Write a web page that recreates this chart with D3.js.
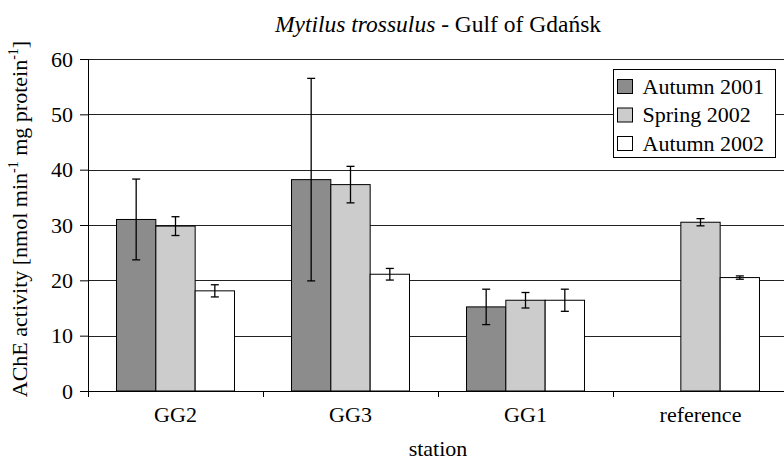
<!DOCTYPE html>
<html>
<head>
<meta charset="utf-8">
<script src="https://cdn.jsdelivr.net/npm/d3@7"></script>
<style>
  body { margin: 0; background: #fff; }
</style>
</head>
<body>
<div class="canvas"></div>
<script>
// data
const stations = ['GG2', 'GG3', 'GG1', 'reference'];
const seriesNames = ['Autumn 2001', 'Spring 2002', 'Autumn 2002'];
const autumn2001 = [31.0, 38.2, 15.2, null];
const autumn2001Err = [7.3, 18.3, 3.2, null];
const spring2002 = [29.8, 37.3, 16.4, 30.5];
const spring2002Err = [1.7, 3.3, 1.4, 0.65];
const autumn2002 = [18.1, 21.1, 16.4, 20.5];
const autumn2002Err = [1.1, 1.05, 2.0, 0.3];
const yTicks = [0, 10, 20, 30, 40, 50, 60];

const colors = ['#8c8c8c', '#cccccc', '#ffffff'];
const font = 'Liberation Serif';

const dims = { width: 784, height: 460 };
const margin = { top: 59, left: 88, bottom: 69, right: -4 };
const inner = {
  width: dims.width - margin.left - margin.right,
  height: dims.height - margin.top - margin.bottom
};

const svg = d3
  .select('.canvas')
  .append('svg')
  .attr('width', dims.width)
  .attr('height', dims.height);

const graph = svg
  .append('g')
  .attr('transform', `translate(${margin.left}, ${margin.top})`);

// scales
const x0 = d3.scaleBand().domain(stations).range([0, inner.width]).padding(0);
const x1 = d3
  .scaleBand()
  .domain(seriesNames)
  .range([0, x0.bandwidth()])
  .paddingInner(0)
  .paddingOuter(0.725);
const y = d3.scaleLinear().domain([0, 60]).range([inner.height, 0]);

// gridlines
graph
  .append('g')
  .selectAll('line')
  .data(yTicks.filter(d => d > 0))
  .enter()
  .append('line')
  .attr('x1', 0)
  .attr('x2', inner.width)
  .attr('y1', d => Math.round(y(d)) + 0.5)
  .attr('y2', d => Math.round(y(d)) + 0.5)
  .attr('stroke', '#222')
  .attr('stroke-width', 1);

// y axis
const yAxis = d3.axisLeft(y).tickValues(yTicks).tickSize(8).tickPadding(7);
const yG = graph.append('g').call(yAxis);
yG.select('.domain').remove();
yG.selectAll('.tick line').attr('stroke', '#000');
yG.selectAll('text')
  .attr('fill', '#000')
  .attr('font-family', font)
  .attr('font-size', 22);
graph
  .append('line')
  .attr('x1', 0.5)
  .attr('x2', 0.5)
  .attr('y1', 0)
  .attr('y2', inner.height + 6)
  .attr('stroke', '#000');

// bars
const seriesVals = [autumn2001, spring2002, autumn2002];
const seriesErr = [autumn2001Err, spring2002Err, autumn2002Err];

const rows = [];
stations.forEach((s, i) => {
  seriesNames.forEach((n, j) => {
    if (seriesVals[j][i] != null) {
      rows.push({ station: s, name: n, idx: j, value: seriesVals[j][i], err: seriesErr[j][i] });
    }
  });
});

graph
  .append('g')
  .selectAll('rect')
  .data(rows)
  .enter()
  .append('rect')
  .attr('x', d => x0(d.station) + x1(d.name))
  .attr('y', d => y(d.value))
  .attr('width', x1.bandwidth())
  .attr('height', d => inner.height - y(d.value))
  .attr('fill', d => colors[d.idx])
  .attr('stroke', '#000')
  .attr('stroke-width', 1);

// error bars
const errG = graph
  .append('g')
  .selectAll('g')
  .data(rows)
  .enter()
  .append('g')
  .attr('stroke', '#000')
  .attr('stroke-width', 1.3);
const cx = d => x0(d.station) + x1(d.name) + x1.bandwidth() / 2;
errG
  .append('line')
  .attr('x1', cx)
  .attr('x2', cx)
  .attr('y1', d => y(d.value + d.err))
  .attr('y2', d => y(d.value - d.err));
errG
  .append('line')
  .attr('x1', d => cx(d) - 4)
  .attr('x2', d => cx(d) + 4)
  .attr('y1', d => y(d.value + d.err))
  .attr('y2', d => y(d.value + d.err));
errG
  .append('line')
  .attr('x1', d => cx(d) - 4)
  .attr('x2', d => cx(d) + 4)
  .attr('y1', d => y(d.value - d.err))
  .attr('y2', d => y(d.value - d.err));

// x axis
graph
  .append('line')
  .attr('x1', 0)
  .attr('x2', inner.width)
  .attr('y1', inner.height + 0.5)
  .attr('y2', inner.height + 0.5)
  .attr('stroke', '#000');
graph
  .append('g')
  .selectAll('line')
  .data(stations.slice(1))
  .enter()
  .append('line')
  .attr('x1', d => Math.round(x0(d)) + 0.5)
  .attr('x2', d => Math.round(x0(d)) + 0.5)
  .attr('y1', inner.height)
  .attr('y2', inner.height + 6)
  .attr('stroke', '#000');
graph
  .append('g')
  .selectAll('text')
  .data(stations)
  .enter()
  .append('text')
  .attr('x', d => x0(d) + x0.bandwidth() / 2)
  .attr('y', inner.height + 31)
  .attr('text-anchor', 'middle')
  .attr('font-family', font)
  .attr('font-size', 22)
  .text(d => d);

// axis titles
svg
  .append('text')
  .attr('x', margin.left + 350)
  .attr('y', 456)
  .attr('text-anchor', 'middle')
  .attr('font-family', font)
  .attr('font-size', 22)
  .text('station');

const yTitle = svg
  .append('text')
  .attr('transform', `translate(27, ${margin.top + inner.height / 2 - 6}) rotate(-90)`)
  .attr('text-anchor', 'middle')
  .attr('font-family', font)
  .attr('font-size', 22);
yTitle.append('tspan').text('AChE activity [nmol min');
yTitle.append('tspan').attr('dy', -9).attr('font-size', 14).text('-1');
yTitle.append('tspan').attr('dy', 9).text(' mg protein');
yTitle.append('tspan').attr('dy', -9).attr('font-size', 14).text('-1');
yTitle.append('tspan').attr('dy', 9).text(']');

// title
const title = svg
  .append('text')
  .attr('x', 438)
  .attr('y', 32)
  .attr('text-anchor', 'middle')
  .attr('font-family', font)
  .attr('font-size', 23.5);
title.append('tspan').attr('font-style', 'italic').text('Mytilus trossulus');
title.append('tspan').text(' - Gulf of Gdańsk');

// legend
const legend = svg.append('g').attr('transform', 'translate(613.5, 69.5)');
legend
  .append('rect')
  .attr('width', 162)
  .attr('height', 88)
  .attr('fill', '#fff')
  .attr('stroke', '#000');
const items = legend
  .selectAll('g')
  .data(seriesNames)
  .enter()
  .append('g')
  .attr('transform', (d, i) => `translate(4, ${10 + i * 28.5})`);
items
  .append('rect')
  .attr('width', 15)
  .attr('height', 14)
  .attr('fill', (d, i) => colors[i])
  .attr('stroke', '#000');
items
  .append('text')
  .attr('x', 25)
  .attr('y', 14)
  .attr('font-family', font)
  .attr('font-size', 22)
  .text(d => d);
</script>
</body>
</html>
